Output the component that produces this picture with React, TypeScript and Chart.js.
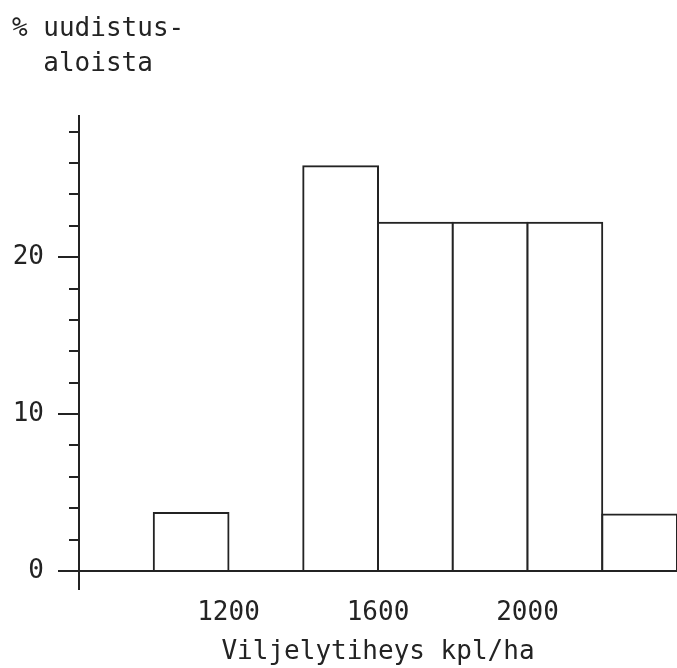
import React, { useEffect, useRef } from "react";
import { Chart, registerables } from "chart.js";

Chart.register(...registerables);

// Histogram bins (seedlings per hectare) and their share (%)
const binLower = [1000, 1400, 1600, 1800, 2000, 2200];
const binUpper = [1200, 1600, 1800, 2000, 2200, 2400];
const shares = [3.7, 25.8, 22.2, 22.2, 22.2, 3.6];

const xTickLabels = [1200, 1600, 2000];
const yTickLabels = [0, 10, 20];

const yTitleLines = ["% uudistus-", "  aloista"];
const xTitle = "Viljelytiheys kpl/ha";

const INK = "#232323";
const FONT = "'DejaVu Sans Mono', monospace";

export default function App() {
  const canvasRef = useRef<HTMLCanvasElement | null>(null);

  useEffect(() => {
    const canvas = canvasRef.current;
    if (!canvas) return;
    const data = binLower.map((lo, i) => ({ x: (lo + binUpper[i]) / 2, y: shares[i] }));
    const chart = new Chart(canvas, {
      type: "bar",
      data: {
        datasets: [
          {
            data: data as any,
            backgroundColor: "#ffffff",
            borderColor: INK,
            borderWidth: 2,
            borderSkipped: "start",
            inflateAmount: 1,
            barPercentage: 1,
            categoryPercentage: 1,
          } as any,
        ],
      },
      options: {
        responsive: false,
        animation: false,
        layout: { padding: { left: 12, top: 0, right: 0, bottom: 0 } },
        plugins: {
          legend: { display: false },
          tooltip: { enabled: false },
          title: {
            display: true,
            align: "start",
            text: yTitleLines,
            color: INK,
            font: { family: FONT, size: 26, weight: "normal", lineHeight: "35px" } as any,
            padding: { top: 12, bottom: 34 },
          },
        },
        scales: {
          x: {
            type: "linear",
            min: 800,
            max: 2400,
            offset: false,
            z: 1,
            afterFit: (scale: any) => {
              scale.height = 97;
              scale.paddingLeft = 0;
              scale.paddingRight = 0;
            },
            grid: {
              display: true,
              offset: false,
              lineWidth: 2,
              drawOnChartArea: false,
              drawTicks: true,
              tickLength: 19,
              tickWidth: 2,
              tickColor: (ctx: any) =>
                ctx.tick && ctx.tick.value === 800 ? INK : "rgba(0,0,0,0)",
            },
            border: { display: true, color: INK, width: 2 },
            ticks: {
              stepSize: 400,
              autoSkip: false,
              maxRotation: 0,
              padding: 8,
              color: INK,
              font: { family: FONT, size: 26 },
              callback: (v: any) => (xTickLabels.includes(Number(v)) ? String(v) : ""),
            },
            title: {
              display: true,
              text: xTitle,
              color: INK,
              font: { family: FONT, size: 26 },
              padding: { top: 0, bottom: 0 },
            },
          } as any,
          y: {
            type: "linear",
            min: 0,
            max: 29,
            z: 1,
            afterFit: (scale: any) => {
              scale.width = 67;
              scale.paddingTop = 0;
              scale.paddingBottom = 0;
            },
            grid: {
              display: true,
              lineWidth: 2,
              drawOnChartArea: false,
              drawTicks: true,
              tickLength: 21,
              tickWidth: 2,
              tickColor: INK,
              tickBorderDash: (ctx: any) =>
                ctx.tick && ctx.tick.value % 10 === 0 ? [] : [0, 11, 30, 0],
            },
            border: { display: true, color: INK, width: 2 },
            ticks: {
              stepSize: 2,
              includeBounds: false,
              autoSkip: false,
              padding: 14,
              color: INK,
              font: { family: FONT, size: 26 },
              callback: (v: any) => (yTickLabels.includes(Number(v)) ? String(v) : ""),
            },
          } as any,
        },
      },
    });
    return () => chart.destroy();
  }, []);

  return (
    <div style={{ position: "absolute", left: 0, top: 0, width: 677, height: 668, background: "#fff" }}>
      <canvas ref={canvasRef} width={677} height={668} style={{ display: "block" }} />
    </div>
  );
}
